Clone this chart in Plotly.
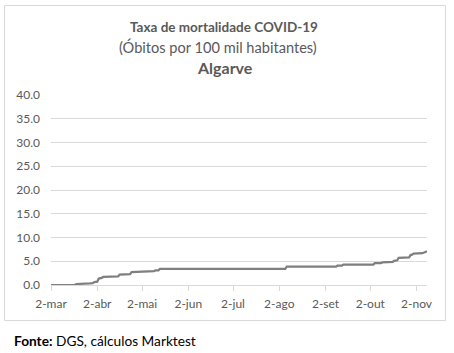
import plotly.graph_objects as go

# ---- data ----
dates = ["2020-03-02", "2020-03-18", "2020-03-19", "2020-03-27", "2020-03-28", "2020-03-30",
         "2020-03-31", "2020-04-02", "2020-04-03", "2020-04-05", "2020-04-06", "2020-04-16",
         "2020-04-17", "2020-04-24", "2020-04-25", "2020-05-10", "2020-05-11", "2020-05-13",
         "2020-05-14", "2020-08-06", "2020-08-07", "2020-09-09", "2020-09-10", "2020-09-13",
         "2020-09-14", "2020-10-04", "2020-10-05", "2020-10-09", "2020-10-10", "2020-10-17",
         "2020-10-18", "2020-10-20", "2020-10-21", "2020-10-28", "2020-10-29", "2020-10-30",
         "2020-10-31", "2020-11-06", "2020-11-08", "2020-11-09"]
rate = [0.0, 0.0, 0.2, 0.2, 0.35, 0.4,
        0.6, 0.7, 1.35, 1.5, 1.7, 1.8,
        2.2, 2.3, 2.7, 2.9, 3.1, 3.1,
        3.4, 3.4, 3.85, 3.85, 4.1, 4.1,
        4.3, 4.3, 4.6, 4.6, 4.75, 4.85,
        5.1, 5.2, 5.7, 5.8, 6.3, 6.4,
        6.6, 6.7, 7.0, 7.1]

tick_dates = ["2020-03-02", "2020-04-02", "2020-05-02", "2020-06-02", "2020-07-02",
              "2020-08-02", "2020-09-02", "2020-10-02", "2020-11-02"]
tick_labels = ["2-mar", "2-abr", "2-mai", "2-jun", "2-jul", "2-ago", "2-set", "2-out", "2-nov"]
y_ticks = [0, 5, 10, 15, 20, 25, 30, 35, 40]
y_labels = ["0.0", "5.0", "10.0", "15.0", "20.0", "25.0", "30.0", "35.0", "40.0"]

title1 = "<b>Taxa de mortalidade COVID-19</b>"
title2 = "(Óbitos por 100 mil habitantes)"
title3 = "<b>Algarve</b>"
footer = "<b>Fonte:</b> DGS, cálculos Marktest"

# ---- layout geometry (pixels) ----
W, H = 454, 353
L, R, T, B = 51, 427, 95, 285
pw, ph = R - L, B - T

def px(x):
    return (x - L) / pw

def py(y):
    return (B - y) / ph

FONT = "Lato"
GREY = "#595959"

fig = go.Figure()
fig.add_trace(go.Scatter(x=dates, y=rate, mode="lines",
                         line=dict(color="#7f7f7f", width=2.25),
                         hoverinfo="skip", showlegend=False))

fig.update_layout(
    width=W, height=H,
    margin=dict(l=L, r=W - R, t=T, b=H - B, pad=0),
    paper_bgcolor="white", plot_bgcolor="white",
    font=dict(family=FONT, color=GREY, size=11),
    xaxis=dict(type="date", range=["2020-03-02", "2020-11-09"],
               tickmode="array", tickvals=tick_dates, ticktext=tick_labels,
               showgrid=False, zeroline=False, showline=True, linecolor="#d9d9d9", linewidth=1,
               ticks="outside", ticklen=5, tickcolor="#d9d9d9", tickwidth=1,
               tickfont=dict(family=FONT, color=GREY, size=12), ticklabelstandoff=3),
    yaxis=dict(range=[0, 40], tickmode="array", tickvals=y_ticks, ticktext=y_labels,
               showgrid=True, gridcolor="#d9d9d9", gridwidth=1, zeroline=False,
               showline=False, ticks="",
               tickfont=dict(family=FONT, color=GREY, size=12), ticklabelstandoff=10),
)

fig.add_shape(type="rect", xref="paper", yref="paper",
              x0=px(4.5), x1=px(445.5), y0=py(320.5), y1=py(5.5),
              line=dict(color="#d9d9d9", width=1), fillcolor="rgba(0,0,0,0)", layer="below")

ann = [
    (title1, 224, 27, 13.5, "center"),
    (title2, 218, 47, 14.6, "center"),
    (title3, 225, 67, 16, "center"),
]
for text, x, y, size, anchor in ann:
    fig.add_annotation(text=text, xref="paper", yref="paper", x=px(x), y=py(y),
                       xanchor=anchor, yanchor="middle", showarrow=False,
                       font=dict(family=FONT, size=size, color=GREY))
fig.add_annotation(text=footer, xref="paper", yref="paper", x=px(12), y=py(340),
                   xanchor="left", yanchor="middle", showarrow=False,
                   font=dict(family=FONT, size=13.7, color="black"))

fig.write_html("out.html")
